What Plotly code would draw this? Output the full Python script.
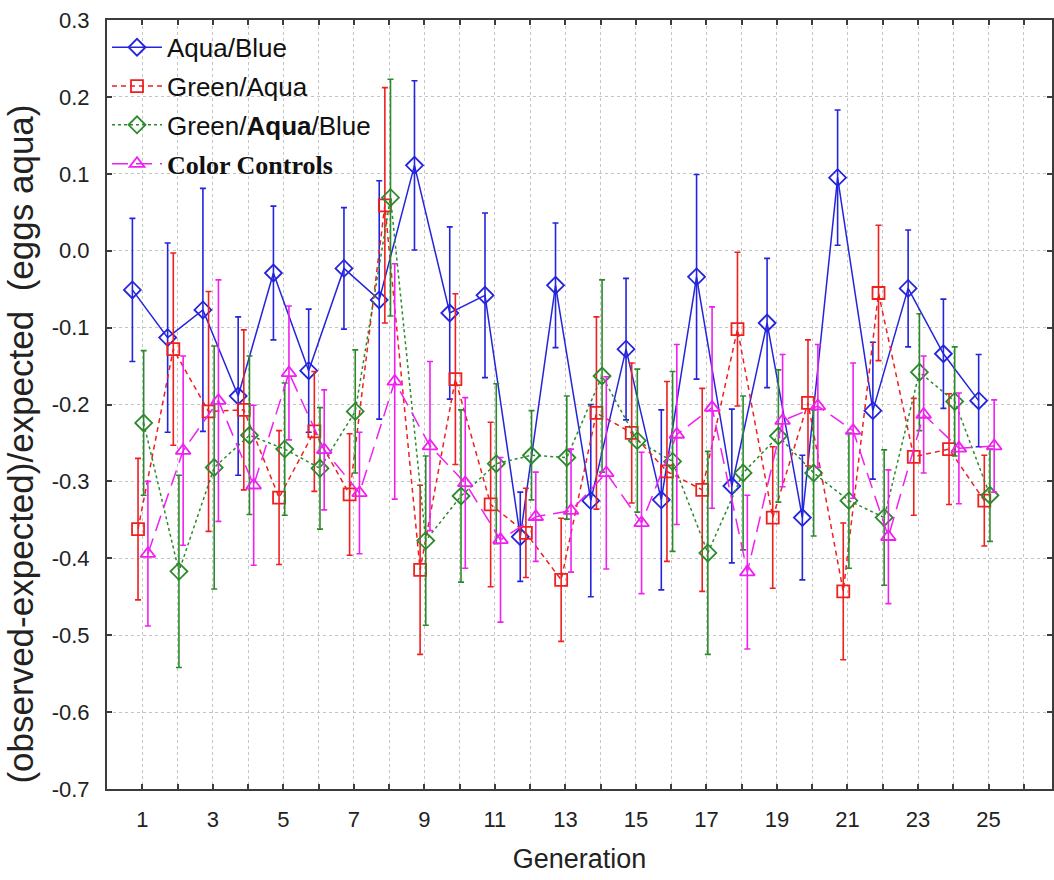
import plotly.graph_objects as go

# Generations sampled
generations = list(range(1, 26))

# Mean (observed-expected)/expected for aqua eggs, with error half-widths
aqua_blue = [-0.051, -0.113, -0.077, -0.189, -0.029, -0.156, -0.023, -0.064, 0.111, -0.081,
             -0.058, -0.372, -0.045, -0.325, -0.128, -0.324, -0.034, -0.306, -0.094, -0.347,
             0.095, -0.208, -0.049, -0.134, -0.195]
aqua_blue_err = [0.093, 0.123, 0.158, 0.103, 0.087, 0.080, 0.079, 0.155, 0.110, 0.112,
                 0.107, 0.058, 0.081, 0.125, 0.092, 0.117, 0.133, 0.100, 0.084, 0.081,
                 0.088, 0.089, 0.076, 0.071, 0.060]

green_aqua = [-0.362, -0.128, -0.209, -0.207, -0.321, -0.235, -0.317, 0.059, -0.415, -0.167,
              -0.330, -0.367, -0.428, -0.211, -0.237, -0.287, -0.311, -0.102, -0.347, -0.198,
              -0.443, -0.055, -0.268, -0.258, -0.325]
green_aqua_err = [0.092, 0.125, 0.156, 0.104, 0.087, 0.078, 0.079, 0.153, 0.110, 0.111,
                  0.107, 0.058, 0.080, 0.125, 0.091, 0.117, 0.132, 0.100, 0.092, 0.082,
                  0.089, 0.088, 0.076, 0.072, 0.059]

green_aqua_blue = [-0.224, -0.417, -0.282, -0.240, -0.258, -0.283, -0.209, 0.069, -0.377, -0.319,
                   -0.277, -0.266, -0.269, -0.163, -0.247, -0.274, -0.393, -0.289, -0.241, -0.289,
                   -0.325, -0.347, -0.158, -0.196, -0.318]
green_aqua_blue_err = [0.094, 0.125, 0.158, 0.103, 0.086, 0.079, 0.080, 0.154, 0.110, 0.112,
                       0.104, 0.058, 0.080, 0.125, 0.093, 0.117, 0.132, 0.100, 0.086, 0.082,
                       0.088, 0.088, 0.076, 0.071, 0.060]

color_controls = [-0.394, -0.260, -0.195, -0.305, -0.159, -0.259, -0.315, -0.170, -0.254, -0.302,
                  -0.376, -0.346, -0.338, -0.289, -0.354, -0.239, -0.204, -0.418, -0.221, -0.202,
                  -0.234, -0.372, -0.213, -0.257, -0.254]
color_controls_err = [0.094, 0.123, 0.157, 0.104, 0.087, 0.078, 0.079, 0.153, 0.110, 0.111,
                      0.107, 0.058, 0.080, 0.125, 0.092, 0.117, 0.131, 0.100, 0.086, 0.080,
                      0.088, 0.087, 0.076, 0.072, 0.060]

x_tick_vals = list(range(1, 27))
x_tick_text = [str(v) if v % 2 == 1 else "" for v in x_tick_vals]
y_tick_vals = [0.3, 0.2, 0.1, 0.0, -0.1, -0.2, -0.3, -0.4, -0.5, -0.6, -0.7]
y_tick_text = ["0.3", "0.2", "0.1", "0.0", "-0.1", "-0.2", "-0.3", "-0.4", "-0.5", "-0.6", "-0.7"]

SANS = "Liberation Sans, Arial, sans-serif"

series = [
    dict(name="Aqua/Blue", y=aqua_blue, err=aqua_blue_err, color="#2424dc",
         dash="solid", symbol="diamond-open", size=13, shift=-0.28),
    dict(name="Green/Aqua", y=green_aqua, err=green_aqua_err, color="#ee2020",
         dash="5px,4px", symbol="square-open", size=12, shift=-0.12),
    dict(name="Green/<b>Aqua</b>/Blue", y=green_aqua_blue, err=green_aqua_blue_err,
         color="#2b8a2b", dash="dot", symbol="diamond-open", size=13, shift=0.04),
    dict(name='<b><span style="font-family:\'Liberation Serif\', \'Times New Roman\', serif">'
              'Color Controls</span></b>',
         y=color_controls, err=color_controls_err, color="#f020f0",
         dash="16px,8px", symbol="triangle-up-open", size=13, shift=0.16),
]

fig = go.Figure()
for s in series:
    fig.add_trace(go.Scatter(
        x=[g + s["shift"] for g in generations],
        y=s["y"],
        name=s["name"],
        mode="lines+markers",
        line=dict(color=s["color"], width=1.5, dash=s["dash"]),
        marker=dict(symbol=s["symbol"], size=s["size"], color=s["color"],
                    line=dict(color=s["color"], width=1.8)),
        error_y=dict(type="data", array=s["err"], visible=True,
                     color=s["color"], thickness=1.6, width=3),
        legendgroup=s["name"],
    ))

axis_common = dict(
    showline=True, linecolor="#3c3c3c", linewidth=2, mirror="ticks",
    ticks="inside", ticklen=5, tickwidth=1.5, tickcolor="#3c3c3c",
    showgrid=True, gridcolor="#c4c4c4", gridwidth=1, griddash="dot",
    zeroline=False,
    tickfont=dict(family=SANS, size=22, color="#222222"),
)

fig.update_xaxes(
    range=[0, 26.8], tickvals=x_tick_vals, ticktext=x_tick_text,
    ticklabelstandoff=10,
    title=dict(text="Generation", standoff=18,
               font=dict(family=SANS, size=27, color="#222222")),
    **axis_common,
)
fig.update_yaxes(
    range=[-0.7, 0.3], tickvals=y_tick_vals, ticktext=y_tick_text,
    ticklabelstandoff=11,
    **axis_common,
)

# Vertical axis title, placed as a rotated annotation
fig.add_annotation(
    text="(observed-expected)/expected  (eggs aqua)",
    xref="paper", yref="paper", x=-0.092, y=0.448,
    xanchor="center", yanchor="middle", textangle=-90, showarrow=False,
    font=dict(family=SANS, size=35, color="#222222"),
)

fig.update_layout(
    width=1054, height=880,
    margin=dict(l=107, r=2, t=20, b=91, autoexpand=False),
    plot_bgcolor="white", paper_bgcolor="white",
    showlegend=True,
    legend=dict(x=0.0, y=0.995, xanchor="left", yanchor="top", itemwidth=50,
                bgcolor="rgba(0,0,0,0)", borderwidth=0, tracegroupgap=2,
                font=dict(family=SANS, size=26, color="#111111")),
)

fig.write_html("out.html")
